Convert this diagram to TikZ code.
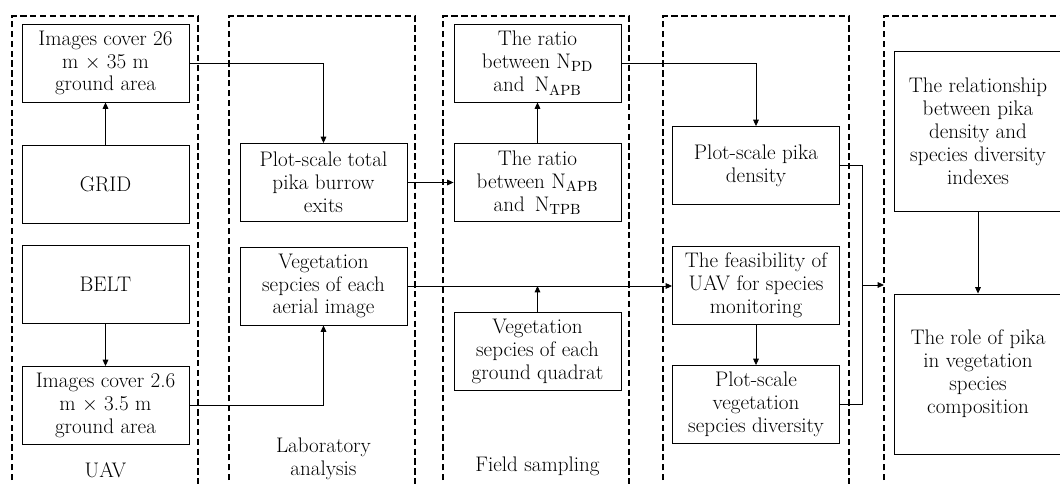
\documentclass[tikz,border=0pt]{standalone}
\usepackage{amsmath,amssymb}
\usetikzlibrary{arrows.meta}

\begin{document}
\begin{tikzpicture}[x=0.025cm, y=-0.025cm,
    stage/.style={draw, line width=1.4pt, dash pattern=on 4.5pt off 2.5pt},
    box/.style={draw, line width=0.6pt, align=center, inner sep=1pt,
                minimum width=4.175cm, minimum height=1.95cm,
                font=\fontsize{15}{16.3}\selectfont},
    tall/.style={box, minimum height=4cm},
    caption/.style={align=center, font=\fontsize{15}{16.3}\selectfont},
    link/.style={-{Triangle[length=4.5pt,width=4pt]}, line width=0.6pt}
]
\useasboundingbox (0,0) rectangle (1060,484);
\clip (0,0) rectangle (1060,484);

% stages
\draw[stage] (12,490) |- (198,16) -- (198,490);
\draw[stage] (229,490) |- (415,16) -- (415,490);
\draw[stage] (443,490) |- (629,16) -- (629,490);
\draw[stage] (663,490) |- (849,16) -- (849,490);
\draw[stage] (884,490) |- (1075,16);

% UAV
\node[box] (imgA) at (105.5,63) {Images cover 26\\m $\times$ 35 m\\ground area};
\node[box] (grid) at (105.5,184) {GRID};
\node[box] (belt) at (105.5,284) {BELT};
\node[box] (imgB) at (105.5,405.5) {Images cover 2.6\\m $\times$ 3.5 m\\ground area};
\node[caption] (uav) at (105.5,470) {UAV};

% Laboratory analysis
\node[box] (burrow) at (323.5,182.5) {Plot-scale total\\pika burrow\\exits};
\node[box] (vegA) at (323.5,286) {Vegetation\\sepcies of each\\aerial image};
\node[caption] (lab) at (323.5,459) {Laboratory\\analysis};

% Field sampling
\node[box] (ratioPD) at (537.5,63) {The ratio\\between N\textsubscript{PD}\\and\, N\textsubscript{APB}};
\node[box] (ratioAPB) at (537.5,182.5) {The ratio\\between N\textsubscript{APB}\\and\, N\textsubscript{TPB}};
\node[box] (quad) at (537.5,351.5) {Vegetation\\sepcies of each\\ground quadrat};
\node[caption] (field) at (537.5,466) {Field sampling};

% plot-scale results
\node[box] (dens) at (756,165.5) {Plot-scale pika\\density};
\node[box] (feas) at (756,285) {The feasibility of\\UAV for species\\monitoring};
\node[box] (div) at (756,404.5) {Plot-scale\\vegetation\\sepcies diversity};

% conclusions
\node[tall] (rel) at (978,131) {The relationship\\between pika\\density and\\species diversity\\indexes};
\node[tall] (role) at (978,374) {The role of pika\\in vegetation\\species\\composition};

\coordinate (merge) at (862,285);
\coordinate (tip) at (884,285);

\draw[link] (grid) -- (imgA);
\draw[link] (belt) -- (imgB);
\draw[link] (imgA.east) -| (burrow.north);
\draw[link] (imgB.east) -| (vegA.south);
\draw[link] (burrow) -- (ratioAPB);
\draw[link] (ratioAPB) -- (ratioPD);
\draw[link] (ratioPD.east) -| (dens.north);
\draw[link] (vegA.east) -- (vegA.east -| feas.west);
\draw[link] (quad.north) -- (quad.north |- vegA.east);
\draw[link] (feas) -- (div);
\draw[line width=0.6pt] (dens.east) -| (merge);
\draw[line width=0.6pt] (div.east) -| (merge);
\draw[link] (merge) -- (tip);
\draw[link] (rel) -- (role);
\end{tikzpicture}
\end{document}
